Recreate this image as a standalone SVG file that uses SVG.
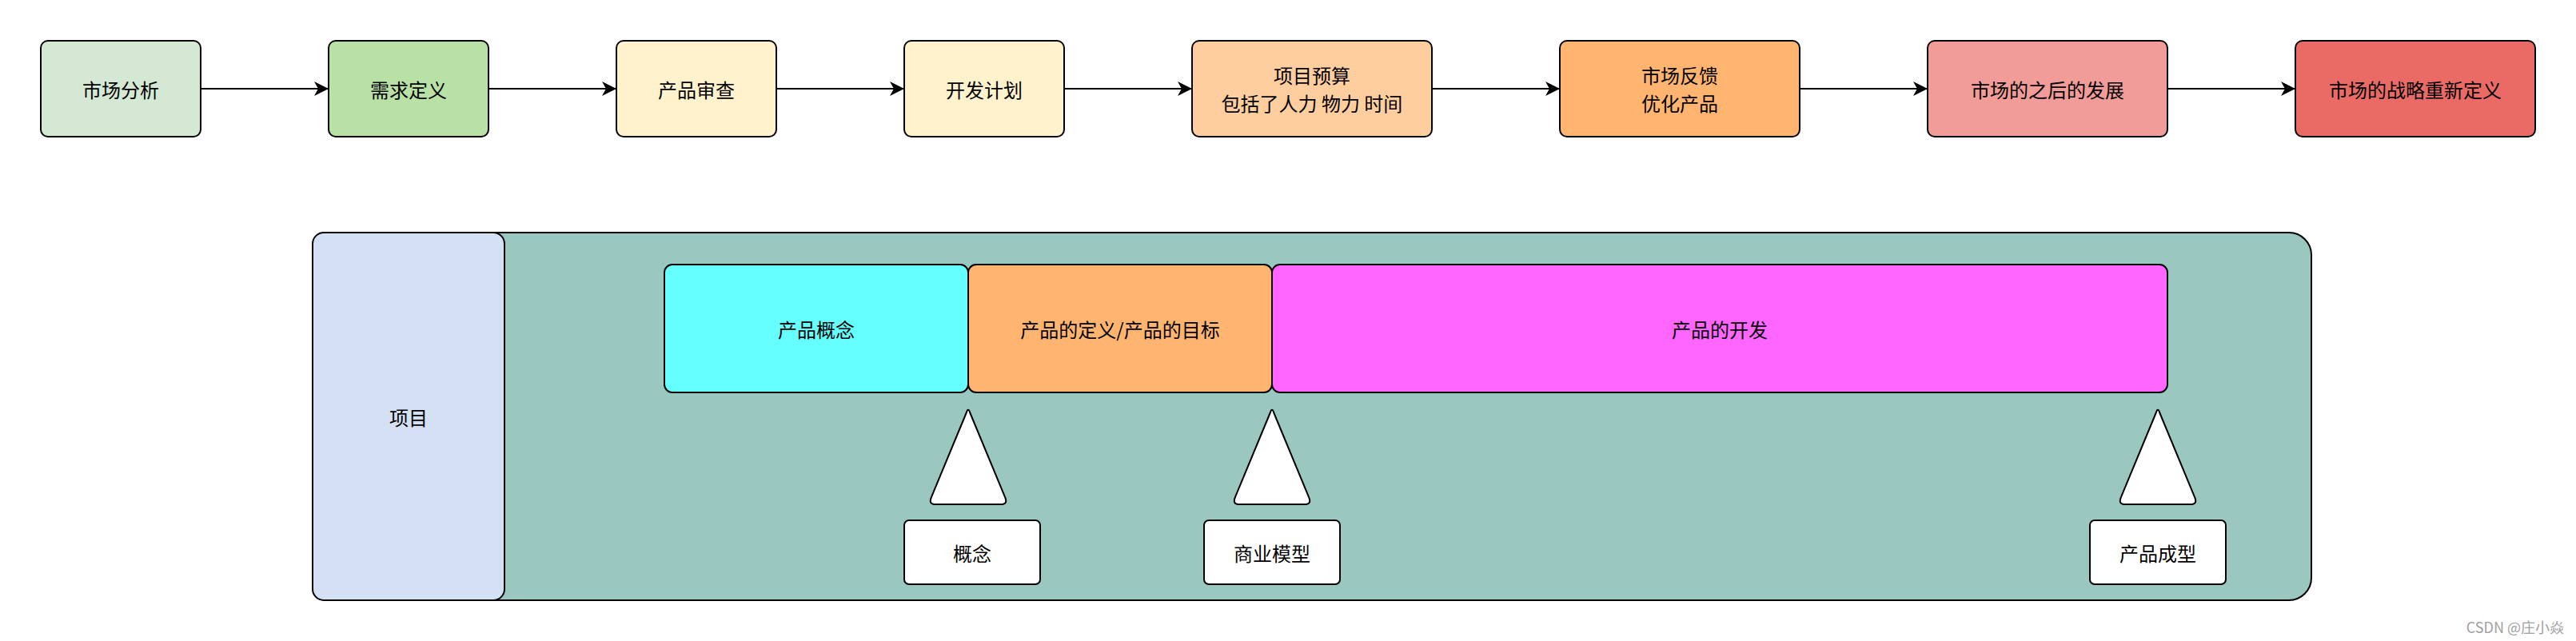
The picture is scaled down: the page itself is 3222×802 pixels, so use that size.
<svg xmlns="http://www.w3.org/2000/svg" width="3222" height="802" viewBox="0 0 3222 802">
<style>
.box{stroke:#000;stroke-width:2}
.t{font-family:"Noto Sans CJK SC","Noto Sans",sans-serif;font-size:24px;fill:#000;text-anchor:middle;dominant-baseline:central}
.edge{fill:none;stroke:#000;stroke-width:2}
.tri{fill:#fff;stroke:#000;stroke-width:2;stroke-linejoin:round}
</style>
<defs>
<marker id="arr" markerUnits="userSpaceOnUse" markerWidth="20" markerHeight="20" refX="18" refY="9" orient="auto">
<path d="M0,0 L18,9 L0,18 L5,9 Z" fill="#000"/>
</marker>
</defs>
<rect width="3222" height="802" fill="#fff"/>

<g id="n1"><rect class="box" x="51" y="51" width="200" height="120" rx="9" fill="#d5e8d4"/><text class="t" x="151" y="111">市场分析</text></g>
<g id="n2"><rect class="box" x="411" y="51" width="200" height="120" rx="9" fill="#b9e0a5"/><text class="t" x="511" y="111">需求定义</text></g>
<g id="n3"><rect class="box" x="771" y="51" width="200" height="120" rx="9" fill="#fff2cc"/><text class="t" x="871" y="111">产品审查</text></g>
<g id="n4"><rect class="box" x="1131" y="51" width="200" height="120" rx="9" fill="#fff2cc"/><text class="t" x="1231" y="111">开发计划</text></g>
<g id="n5"><rect class="box" x="1491" y="51" width="300" height="120" rx="9" fill="#ffce9f"/><text class="t" x="1641" y="93.5">项目预算</text><text class="t" x="1641" y="128.5">包括了人力 物力 时间</text></g>
<g id="n6"><rect class="box" x="1951" y="51" width="300" height="120" rx="9" fill="#ffb570"/><text class="t" x="2101" y="93.5">市场反馈</text><text class="t" x="2101" y="128.5">优化产品</text></g>
<g id="n7"><rect class="box" x="2411" y="51" width="300" height="120" rx="9" fill="#f19c99"/><text class="t" x="2561" y="111">市场的之后的发展</text></g>
<g id="n8"><rect class="box" x="2871" y="51" width="300" height="120" rx="9" fill="#ea6b66"/><text class="t" x="3021" y="111">市场的战略重新定义</text></g>

<g id="connectors">
<line class="edge" x1="251" y1="111" x2="411" y2="111" marker-end="url(#arr)"/>
<line class="edge" x1="611" y1="111" x2="771" y2="111" marker-end="url(#arr)"/>
<line class="edge" x1="971" y1="111" x2="1131" y2="111" marker-end="url(#arr)"/>
<line class="edge" x1="1331" y1="111" x2="1491" y2="111" marker-end="url(#arr)"/>
<line class="edge" x1="1791" y1="111" x2="1951" y2="111" marker-end="url(#arr)"/>
<line class="edge" x1="2251" y1="111" x2="2411" y2="111" marker-end="url(#arr)"/>
<line class="edge" x1="2711" y1="111" x2="2871" y2="111" marker-end="url(#arr)"/>
</g>

<g id="container"><rect class="box" x="391" y="291" width="2500" height="460" rx="28" fill="#9ac7bf"/></g>
<g id="project"><rect class="box" x="391" y="291" width="240" height="460" rx="14" fill="#d4e1f5"/><text class="t" x="511" y="521">项目</text></g>
<g id="concept"><rect class="box" x="831" y="331" width="380" height="160" rx="10" fill="#66ffff"/><text class="t" x="1021" y="411">产品概念</text></g>
<g id="definition"><rect class="box" x="1211" y="331" width="380" height="160" rx="10" fill="#ffb570"/><text class="t" x="1401" y="411">产品的定义/产品的目标</text></g>
<g id="development"><rect class="box" x="1591" y="331" width="1120" height="160" rx="10" fill="#ff66ff"/><text class="t" x="2151" y="411">产品的开发</text></g>

<g id="tri1"><path class="tri" d="M1208.7,516.5 Q1211,509 1213.3,516.5 L1257,621.8 Q1261,631 1252,631 L1170,631 Q1161,631 1165,621.8 Z"/></g>
<g id="tri2"><path class="tri" d="M1588.7,516.5 Q1591,509 1593.3,516.5 L1637,621.8 Q1641,631 1632,631 L1550,631 Q1541,631 1545,621.8 Z"/></g>
<g id="tri3"><path class="tri" d="M2696.7,516.5 Q2699,509 2701.3,516.5 L2745,621.8 Q2749,631 2740,631 L2658,631 Q2649,631 2653,621.8 Z"/></g>

<g id="m1"><rect class="box" x="1131" y="651" width="170" height="80" rx="6" fill="#fff"/><text class="t" x="1216" y="691">概念</text></g>
<g id="m2"><rect class="box" x="1506" y="651" width="170" height="80" rx="6" fill="#fff"/><text class="t" x="1591" y="691">商业模型</text></g>
<g id="m3"><rect class="box" x="2614" y="651" width="170" height="80" rx="6" fill="#fff"/><text class="t" x="2699" y="691">产品成型</text></g>

<text x="3207" y="784" font-family="Noto Sans CJK SC,Noto Sans,sans-serif" font-size="18" fill="#a0a0a0" text-anchor="end" dominant-baseline="central">CSDN @庄小焱</text>
</svg>
